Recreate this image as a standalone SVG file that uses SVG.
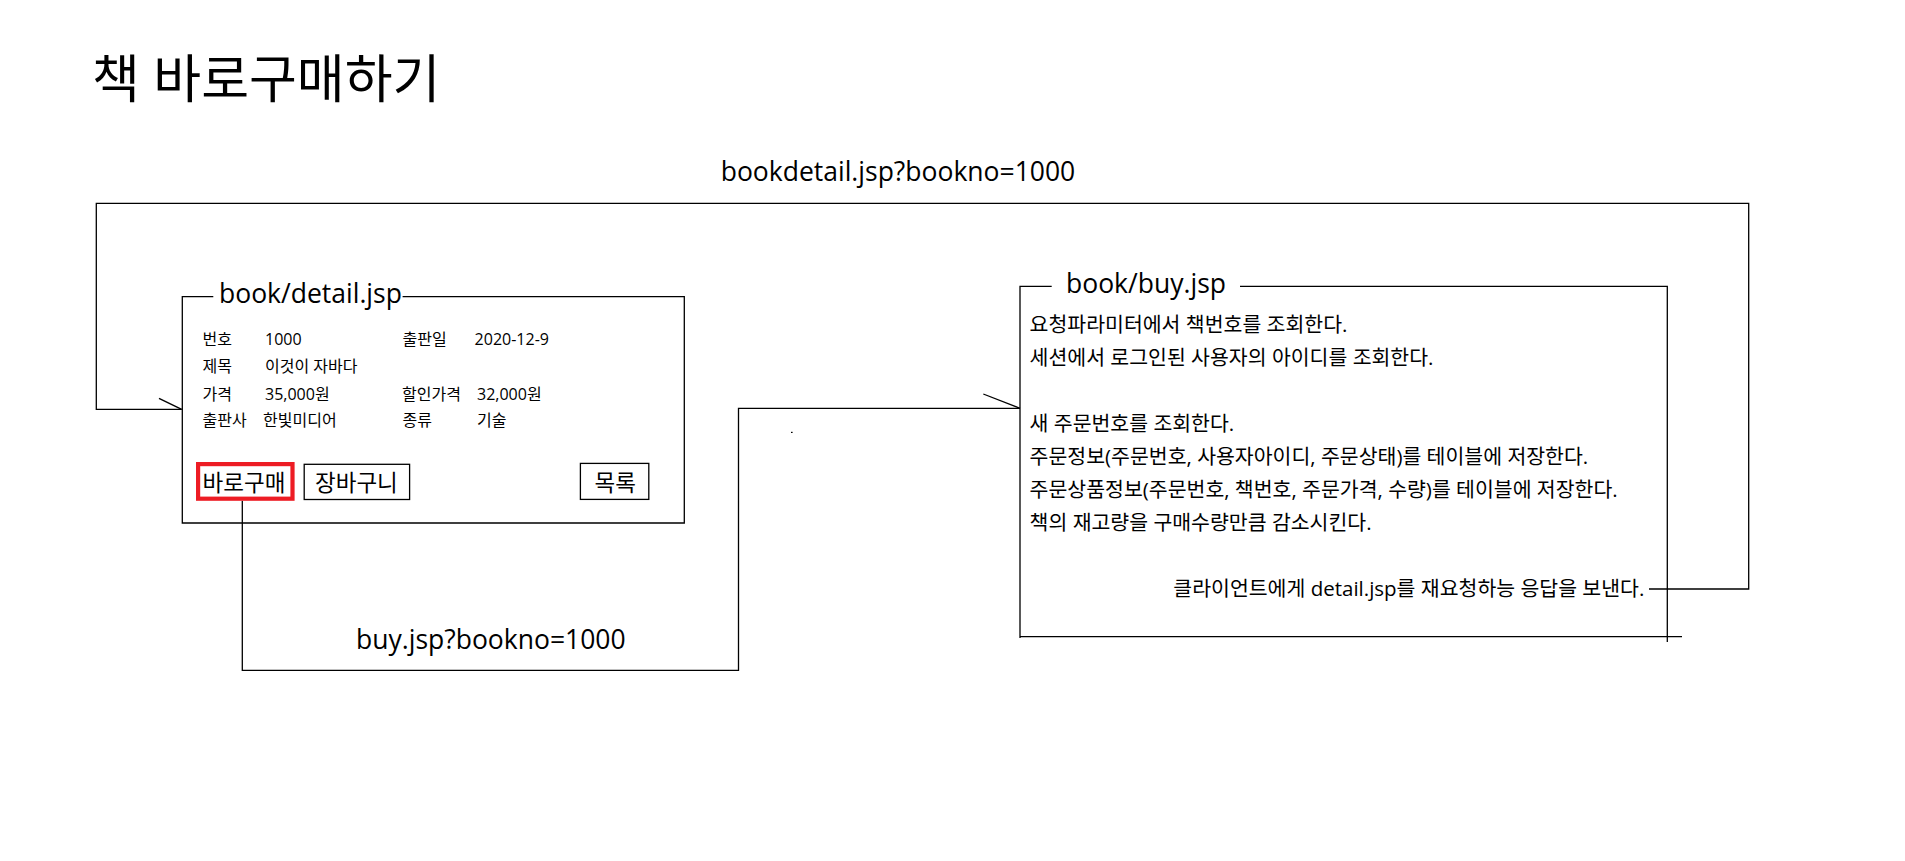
<svg xmlns="http://www.w3.org/2000/svg" width="1905" height="861" viewBox="0 0 1905 861">
<style>
text{font-family:"Open Sans","Noto Sans CJK KR",sans-serif;fill:#000}
.ln{stroke:#000;stroke-width:1.3;fill:none}
.ttl{font-size:52px}
.lbl{font-size:26.5px}
.fld{font-size:16px}
.btn{font-size:22.5px}
.txt{font-size:20.5px}
.box{fill:#fff;stroke:#000;stroke-width:1.3}
.red{fill:#fff;stroke:#ED1C24;stroke-width:4.2}
</style>
<rect width="1905" height="861" fill="#fff"/>
<text id="title" class="ttl" x="92" y="98">책 바로구매하기</text>

<g id="connectors">
  <path class="ln" d="M242.3,500.7 V670.3 H738.5 V408.3 H1020"/>
  <path class="ln" d="M983.3,394 L1020,408.3"/>
  <path class="ln" d="M1649,589 H1748.7 V203.3 H96.3 V409.3 H181.7"/>
  <path class="ln" d="M159,398.3 L181.7,409.3"/>
  <rect x="791" y="431.8" width="1.6" height="1.2" fill="#000"/>
  <text class="lbl" x="720.7" y="180.7">bookdetail.jsp?bookno=1000</text>
  <text class="lbl" x="356" y="649.3">buy.jsp?bookno=1000</text>
</g>

<g id="node-detail">
  <path class="ln" d="M213.3,296.7 H182.3 V523 H684.3 V296.7 H402.6"/>
  <text class="lbl" x="219" y="303.3">book/detail.jsp</text>
  <text class="fld" x="202.6" y="345">번호</text>
  <text class="fld" x="265" y="345">1000</text>
  <text class="fld" x="402.6" y="345">출판일</text>
  <text class="fld" x="474.6" y="345">2020-12-9</text>
  <text class="fld" x="202.6" y="372">제목</text>
  <text class="fld" x="265" y="372">이것이 자바다</text>
  <text class="fld" x="202.6" y="399.5">가격</text>
  <text class="fld" x="265" y="399.5">35,000원</text>
  <text class="fld" x="402" y="399.5">할인가격</text>
  <text class="fld" x="477" y="399.5">32,000원</text>
  <text class="fld" x="202.6" y="426">출판사</text>
  <text class="fld" x="263" y="426">한빛미디어</text>
  <text class="fld" x="402.6" y="426">종류</text>
  <text class="fld" x="477" y="426">기술</text>
  <g id="btn-buy">
    <rect class="red" x="198.1" y="464.1" width="94.4" height="34.6"/>
    <text class="btn" x="202.6" y="490.5">바로구매</text>
  </g>
  <g id="btn-cart">
    <rect class="box" x="304.2" y="464.3" width="105.4" height="35.2"/>
    <text class="btn" x="315" y="490.5">장바구니</text>
  </g>
  <g id="btn-list">
    <rect class="box" x="580.4" y="463.4" width="68.4" height="36"/>
    <text class="btn" x="594.5" y="490.5">목록</text>
  </g>
</g>

<g id="node-buy">
  <path class="ln" d="M1051.7,286.3 H1020 V638"/>
  <path class="ln" d="M1240,286.3 H1667.3 V642"/>
  <path class="ln" d="M1020,636.7 H1682"/>
  <text class="lbl" x="1066" y="293.3">book/buy.jsp</text>
  <text class="txt" x="1029.6" y="332">요청파라미터에서 책번호를 조회한다.</text>
  <text class="txt" x="1029.6" y="365">세션에서 로그인된 사용자의 아이디를 조회한다.</text>
  <text class="txt" x="1029.6" y="431">새 주문번호를 조회한다.</text>
  <text class="txt" x="1029.6" y="464">주문정보(주문번호, 사용자아이디, 주문상태)를 테이블에 저장한다.</text>
  <text class="txt" x="1029.6" y="497">주문상품정보(주문번호, 책번호, 주문가격, 수량)를 테이블에 저장한다.</text>
  <text class="txt" x="1029.6" y="530">책의 재고량을 구매수량만큼 감소시킨다.</text>
  <text class="txt" x="1644.3" y="596" text-anchor="end">클라이언트에게 detail.jsp를 재요청하능 응답을 보낸다.</text>
</g>
</svg>
